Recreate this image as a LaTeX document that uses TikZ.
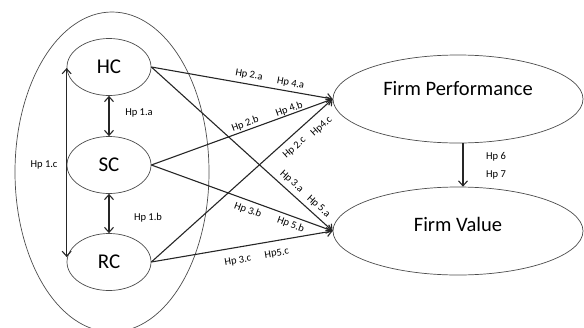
\documentclass[tikz,border=0pt]{standalone}
\usepackage{fontspec}
\setmainfont{Carlito}
\usetikzlibrary{shapes.geometric,arrows.meta}
\begin{document}
\begin{tikzpicture}[x=1pt,y=-1pt,
 ell/.style={ellipse,draw=black!70,line width=0.7pt,inner sep=0pt},
 smallell/.style={ell,minimum width=84pt,minimum height=57pt,font=\fontsize{21}{24}\selectfont},
 bigell/.style={ell,minimum width=250pt,minimum height=88pt},
 bigtext/.style={font=\fontsize{20.5}{24}\selectfont,inner sep=0pt,anchor=base},
 conn/.style={line width=1.1pt,draw=black!85},
 tip/.style={-{Straight Barb[length=5pt,width=9pt]}},
 dtip/.style={{Straight Barb[length=5pt,width=9pt]}-{Straight Barb[length=5pt,width=9pt]}},
 lab/.style={font=\fontsize{10.5}{11}\selectfont,inner sep=1pt},
 ]
\path[use as bounding box] (0,0) rectangle (584,327);
\clip (0,0) rectangle (584,327);
% outer ellipse
\draw[black!70,line width=0.7pt] (112,172) ellipse [x radius=97, y radius=160];
% left constructs
\node[smallell] (HC) at (109,67) {HC};
\node[smallell] (SC) at (109,165) {SC};
\node[smallell] (RC) at (109,262) {RC};
% right constructs
\node[bigell] (FP) at (458,99) {};
\node[bigtext] (FPt) at (458,95) {Firm Performance};
\node[bigell] (FV) at (458,231) {};
\node[bigtext] (FVt) at (458,231) {Firm Value};
% Hp 1
\draw[conn,dtip] (HC.south) -- (SC.north);
\draw[conn,dtip] (SC.south) -- (RC.north);
\draw[conn,dtip] ([yshift=-1pt]HC.west) -- ([yshift=5pt]RC.west);
\node[lab] (h1a) at (139,113) {Hp 1.a};
\node[lab] (h1b) at (148,218) {Hp 1.b};
\node[lab] (h1c) at (44,165) {Hp 1.c};
% to Firm Performance
\draw[conn,tip] (HC.east) -- node[lab,sloped,above=3pt,pos=.53]{Hp 2.a} node[lab,sloped,above=2.2pt,pos=.76]{Hp 4.a} (FP.west);
\draw[conn,tip] (SC.east) -- node[lab,sloped,above=0.5pt,pos=.53]{Hp 2.b} node[lab,sloped,above=-1pt,pos=.77]{Hp 4.b} (FP.west);
\draw[conn,tip] (RC.east) -- node[lab,sloped,below=5pt,pos=.75]{Hp 2.c} node[lab,sloped,below=7.5pt,pos=.89]{Hp4.c} (FP.west);
% to Firm Value
\draw[conn,tip] (HC.east) -- node[lab,sloped,above=3.3pt,pos=.74]{Hp 3.a} node[lab,sloped,above=2.8pt,pos=.89]{Hp 5.a} (FV.west);
\draw[conn,tip] (SC.east) -- node[lab,sloped,below=3.5pt,pos=.55]{Hp 3.b} node[lab,sloped,below=2.5pt,pos=.785]{Hp 5.b} (FV.west);
\draw[conn,tip] (RC.east) -- node[lab,sloped,below=7.5pt,pos=.465]{Hp 3.c} node[lab,sloped,below=7pt,pos=.68]{Hp5.c} (FV.west);
% Hp 6 / 7
\draw[conn,tip] ([xshift=5pt]FP.south) -- ([xshift=5pt]FV.north);
\node[lab] (h6) at (496,157) {Hp 6};
\node[lab] (h7) at (496,175) {Hp 7};
\end{tikzpicture}
\end{document}
